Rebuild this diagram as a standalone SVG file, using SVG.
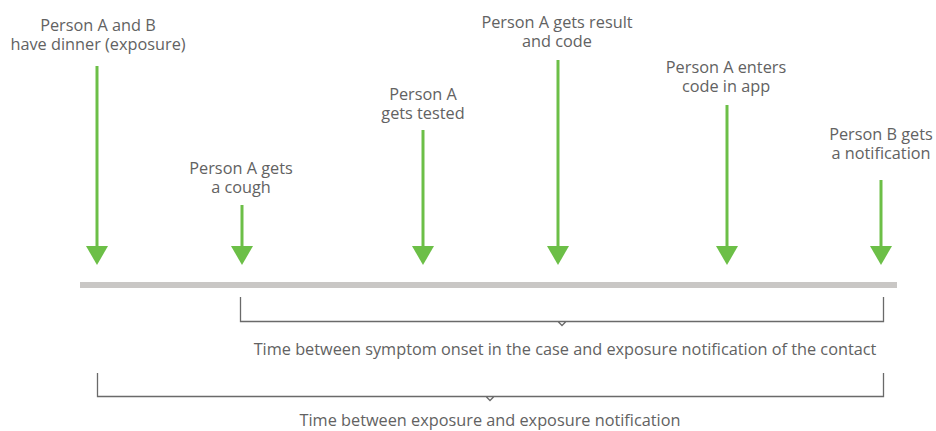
<svg xmlns="http://www.w3.org/2000/svg" width="936" height="431" viewBox="0 0 936 431">
<defs>
<style>
.lbl{font-family:"Open Sans","Noto Sans",sans-serif;font-size:16.3px;fill:#626262;text-anchor:middle}
.shaft{stroke:#6cbf47;stroke-width:3}
.head{fill:#6cbf47}
.brk{fill:none;stroke:#6a6a6a;stroke-width:1.3}
</style>
</defs>
<rect x="80" y="282" width="817" height="6" fill="#c9c7c5"/>
<g id="connectors">
<path class="brk" d="M240.5,297 V321.5 H883.5 V297 M558,321.5 l4,4 l4,-4"/>
<path class="brk" d="M97.5,373 V396.5 H883.5 V373 M486,396.5 l4,4 l4,-4"/>
</g>
<g id="n1">
<line class="shaft" x1="97" y1="66" x2="97" y2="248"/><path class="head" d="M86,246 H108 L97,265 Z"/>
<text class="lbl" x="98" y="31">Person A and B<tspan x="98" dy="19">have dinner (exposure)</tspan></text>
</g>
<g id="n2">
<line class="shaft" x1="242" y1="205" x2="242" y2="248"/><path class="head" d="M231,246 H253 L242,265 Z"/>
<text class="lbl" x="241" y="174">Person A gets<tspan x="241" dy="19">a cough</tspan></text>
</g>
<g id="n3">
<line class="shaft" x1="423" y1="130" x2="423" y2="248"/><path class="head" d="M412,246 H434 L423,265 Z"/>
<text class="lbl" x="423" y="100">Person A<tspan x="423" dy="19">gets tested</tspan></text>
</g>
<g id="n4">
<line class="shaft" x1="558" y1="60" x2="558" y2="248"/><path class="head" d="M547,246 H569 L558,265 Z"/>
<text class="lbl" x="557" y="28">Person A gets result<tspan x="557" dy="19">and code</tspan></text>
</g>
<g id="n5">
<line class="shaft" x1="727" y1="105" x2="727" y2="248"/><path class="head" d="M716,246 H738 L727,265 Z"/>
<text class="lbl" x="726" y="73">Person A enters<tspan x="726" dy="19">code in app</tspan></text>
</g>
<g id="n6">
<line class="shaft" x1="881" y1="180" x2="881" y2="248"/><path class="head" d="M870,246 H892 L881,265 Z"/>
<text class="lbl" x="881" y="140">Person B gets<tspan x="881" dy="19">a notification</tspan></text>
</g>
<text class="lbl" x="565" y="355">Time between symptom onset in the case and exposure notification of the contact</text>
<text class="lbl" x="490" y="425.5">Time between exposure and exposure notification</text>
</svg>
